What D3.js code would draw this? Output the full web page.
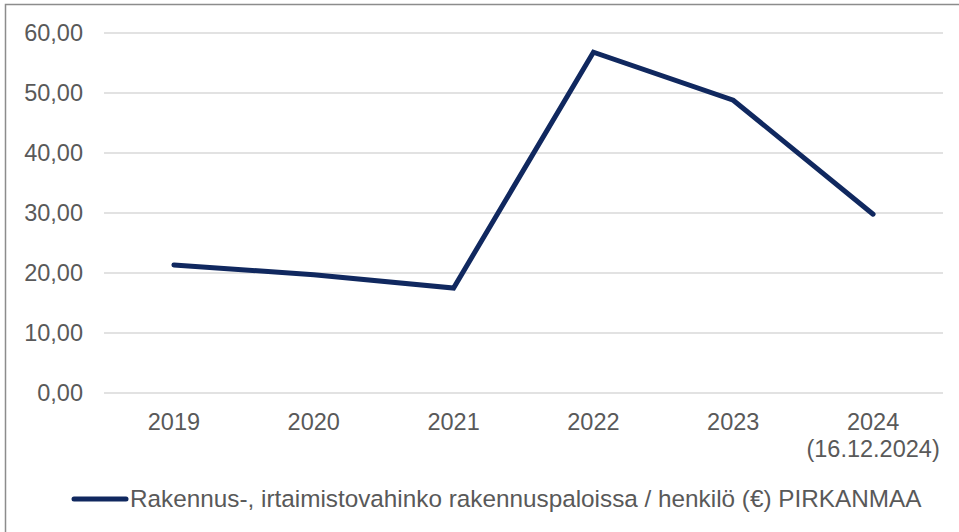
<!DOCTYPE html>
<html>
<head>
<meta charset="utf-8">
<script src="https://cdn.jsdelivr.net/npm/d3@7"></script>
<style>
  body { margin: 0; background: #fff; }
  text { font-family: "Liberation Sans", Arial, sans-serif; }
</style>
</head>
<body>
<svg width="959" height="532"></svg>
<script>
// data
var years = ["2019", "2020", "2021", "2022", "2023", "2024"];
var yearNotes = ["", "", "", "", "", "(16.12.2024)"];
var values = [21.35, 19.7, 17.5, 56.8, 48.8, 29.8];
var yTicks = [0, 10, 20, 30, 40, 50, 60];
var seriesName = "Rakennus-, irtaimistovahinko rakennuspaloissa / henkilö (€) PIRKANMAA";

var svg = d3.select("svg"),
    lineColor = "#10285f",
    textColor = "#595959";

// chart frame (left and top edges visible)
svg.append("path")
   .attr("d", "M5.5,532 V4.5 H959")
   .attr("fill", "none")
   .attr("stroke", "#8c8c8c")
   .attr("stroke-width", 1.5);

var x = d3.scaleBand().domain(years).range([104, 943]);
var y = d3.scaleLinear().domain([0, 60]).range([393, 33]);

// gridlines
svg.append("g").selectAll("line")
   .data(yTicks)
   .enter().append("line")
   .attr("x1", 104).attr("x2", 943)
   .attr("y1", function(d) { return y(d); })
   .attr("y2", function(d) { return y(d); })
   .attr("stroke", "#d9d9d9")
   .attr("stroke-width", 1.5);

// y tick labels
svg.append("g").selectAll("text")
   .data(yTicks)
   .enter().append("text")
   .attr("x", 83)
   .attr("y", function(d) { return y(d) + 8; })
   .attr("text-anchor", "end")
   .attr("fill", textColor)
   .style("font-size", "23.5px")
   .text(function(d) { return d3.format(".2f")(d).replace(".", ","); });

// x labels
var xl = svg.append("g").selectAll("text")
   .data(years)
   .enter().append("text")
   .attr("x", function(d) { return x(d) + x.bandwidth() / 2; })
   .attr("y", 430)
   .attr("text-anchor", "middle")
   .attr("fill", textColor)
   .style("font-size", "23.5px");
xl.append("tspan").text(function(d) { return d; });
xl.append("tspan")
  .attr("x", function(d) { return x(d) + x.bandwidth() / 2; })
  .attr("dy", 27)
  .text(function(d, i) { return yearNotes[i]; });

// the line
var line = d3.line()
    .x(function(d, i) { return x(years[i]) + x.bandwidth() / 2; })
    .y(function(d) { return y(d); });

svg.append("path")
   .datum(values)
   .attr("d", line)
   .attr("fill", "none")
   .attr("stroke", lineColor)
   .attr("stroke-width", 5)
   .attr("stroke-linecap", "round")
   .attr("stroke-linejoin", "miter");

// legend
svg.append("line")
   .attr("x1", 74).attr("x2", 126)
   .attr("y1", 499).attr("y2", 499)
   .attr("stroke", lineColor)
   .attr("stroke-width", 5)
   .attr("stroke-linecap", "round");

svg.append("text")
   .attr("x", 130)
   .attr("y", 507)
   .attr("fill", textColor)
   .style("font-size", "24.3px")
   .text(seriesName);
</script>
</body>
</html>
